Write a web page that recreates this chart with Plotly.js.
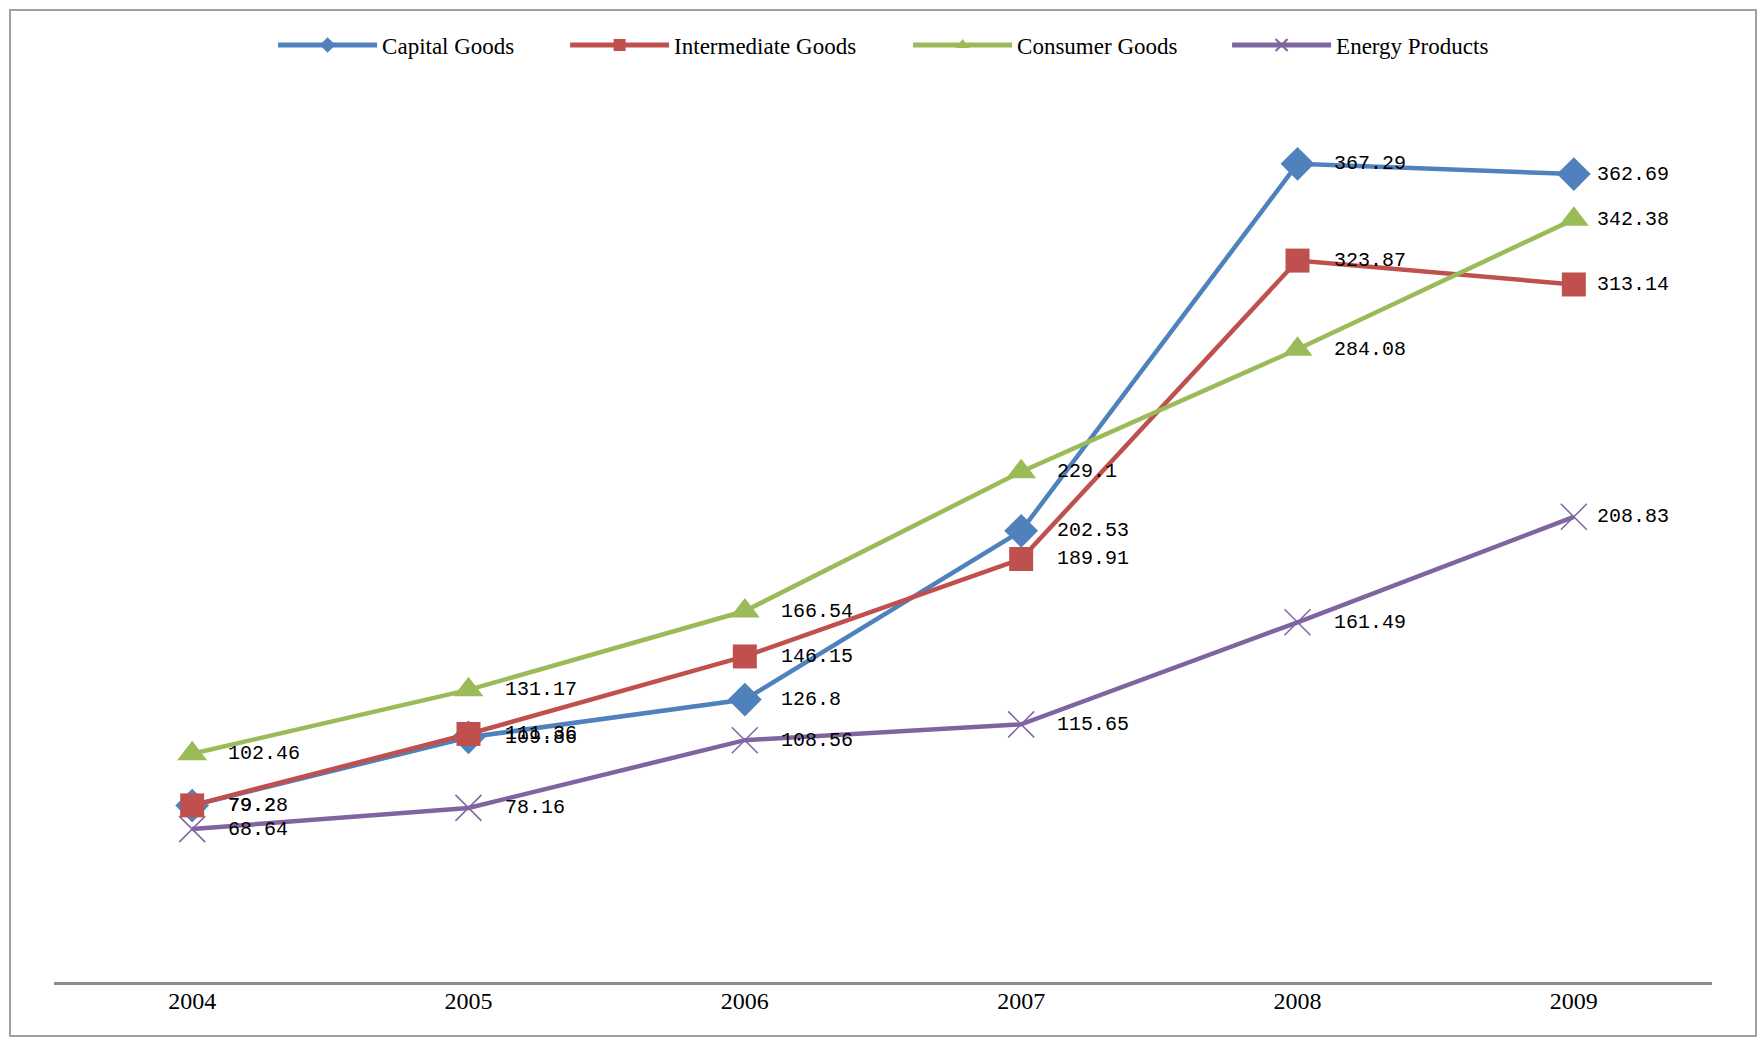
<!DOCTYPE html>
<html>
<head>
<meta charset="utf-8">
<script src="https://cdn.plot.ly/plotly-3.0.1.min.js"></script>
<style>
  html, body { margin: 0; padding: 0; background: #fff; }
  #wrap { position: relative; width: 1764px; height: 1040px; }
  #chart { position: absolute; left: 0; top: 0; width: 1764px; height: 1040px; }
  #frame { position: absolute; left: 9px; top: 9px; width: 1744px; height: 1024px;
           border: 2px solid #a0a0a0; pointer-events: none; }
</style>
</head>
<body>
<div id="wrap">
  <div id="chart"></div>
  <div id="frame"></div>
</div>
<script>
const years = ["2004", "2005", "2006", "2007", "2008", "2009"];
const seriesNames = ["Capital Goods", "Intermediate Goods", "Consumer Goods", "Energy Products"];
const capitalGoods = [79.2, 109.86, 126.8, 202.53, 367.29, 362.69];
const intermediateGoods = [79.28, 111.36, 146.15, 189.91, 323.87, 313.14];
const consumerGoods = [102.46, 131.17, 166.54, 229.1, 284.08, 342.38];
const energyProducts = [68.64, 78.16, 108.56, 115.65, 161.49, 208.83];

const seriesValues = [capitalGoods, intermediateGoods, consumerGoods, energyProducts];
const colors = ["#4F81BD", "#C0504D", "#9BBB59", "#8064A2"];
const markers = [
  {symbol: "diamond", size: 26},
  {symbol: "square", size: 24},
  {symbol: "triangle-up", size: 26},
  {symbol: "x-thin", size: 26}
];
const legendWidths = [178, 229, 205, 165];

const traces = seriesValues.map((vals, i) => ({
  type: "scatter",
  mode: "lines+markers",
  name: seriesNames[i],
  x: years,
  y: vals,
  line: {color: colors[i], width: 4.5},
  marker: Object.assign({}, markers[i], {
    color: colors[i],
    line: {color: colors[i], width: i === 3 ? 1.5 : 0}
  }),
  legendwidth: legendWidths[i],
  cliponaxis: false
}));

const annotations = [];
seriesValues.forEach((vals, i) => {
  vals.forEach((v, j) => {
    annotations.push({
      x: j, y: v, xref: "x", yref: "y",
      text: String(v),
      showarrow: false,
      xanchor: "left", yanchor: "middle",
      xshift: j === vals.length - 1 ? 21 : 34,
      font: {family: "Liberation Mono, monospace", size: 20, color: "#000"}
    });
  });
});

const layout = {
  width: 1764, height: 1040,
  margin: {l: 54, r: 52, t: 91, b: 58},
  paper_bgcolor: "#fff", plot_bgcolor: "#fff",
  showlegend: true,
  legend: {
    orientation: "h",
    x: 0.5 + 7 / 1764, xanchor: "center",
    y: 1 - 45 / 1040, yref: "container", yanchor: "middle",
    itemwidth: 99,
    itemsizing: "constant",
    font: {family: "Liberation Serif, serif", size: 23, color: "#000"},
    bgcolor: "rgba(0,0,0,0)"
  },
  xaxis: {
    type: "category",
    range: [-0.5, 5.5],
    showgrid: false, zeroline: false,
    showline: true, linecolor: "#8c8c8c", linewidth: 3,
    ticks: "", ticklabelstandoff: -5,
    tickfont: {family: "Liberation Serif, serif", size: 24, color: "#000"},
    fixedrange: true
  },
  yaxis: {
    range: [0, 400],
    showgrid: false, zeroline: false, showline: false,
    showticklabels: false, ticks: "",
    fixedrange: true
  },
  annotations: annotations
};

Plotly.newPlot("chart", traces, layout, {displayModeBar: false, staticPlot: true});
</script>
</body>
</html>
